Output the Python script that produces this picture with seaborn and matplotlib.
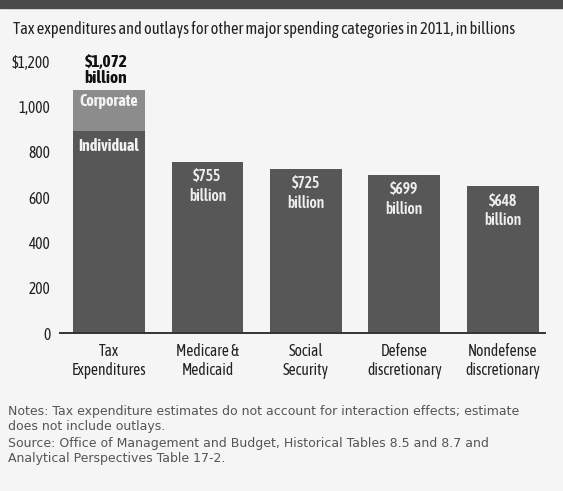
import matplotlib
matplotlib.use("Agg")
import matplotlib.pyplot as plt
import seaborn as sns
import pandas as pd
from matplotlib.patches import Rectangle

categories = ["Tax\nExpenditures", "Medicare &\nMedicaid", "Social\nSecurity",
              "Defense\ndiscretionary", "Nondefense\ndiscretionary"]
totals = [1072, 755, 725, 699, 648]
individual = [891, 755, 725, 699, 648]  # lower (dark) segment; only tax bar is split
corporate = [181, 0, 0, 0, 0]
yticks = [0, 200, 400, 600, 800, 1000, 1200]
ytick_labels = ["0", "200", "400", "600", "800", "1,000", "$1,200"]

sns.set_theme(style="white")
plt.rcParams['font.family'] = ['Asap Condensed', 'DejaVu Sans']

BG = "#f5f5f5"
DARK = "#575757"
LIGHT = "#8c8c8c"

fig = plt.figure(figsize=(5.63, 4.91), dpi=100, facecolor=BG)
ax = fig.add_axes([60/563, 1-333/491, 485/563, (333-61)/491])
ax.set_facecolor(BG)

df = pd.DataFrame({"cat": categories, "total": totals, "ind": individual})
sns.barplot(data=df, x="cat", y="total", hue="cat", palette=[LIGHT] + [DARK]*4,
            width=0.73, legend=False, ax=ax, saturation=1, linewidth=0)
sns.barplot(data=df, x="cat", y="ind", hue="cat", palette=[DARK]*5,
            width=0.73, legend=False, ax=ax, saturation=1, linewidth=0)

ax.set_xlim(-0.498, 4.43)
ax.set_ylim(0, 1200)
ax.set_yticks(yticks)
ax.set_yticklabels(ytick_labels)
ax.set_xlabel("")
ax.set_ylabel("")
for s in ["top", "right", "left"]:
    ax.spines[s].set_visible(False)
ax.spines["bottom"].set_color("#333333")
ax.spines["bottom"].set_linewidth(1.4)
ax.tick_params(axis="y", length=0, pad=7, labelsize=11.2, labelcolor="#222222")
ax.tick_params(axis="x", length=0, pad=7, labelsize=11.2, labelcolor="#222222")
for lbl in ax.get_xticklabels():
    lbl.set_linespacing(1.15)

# value labels
for i, v in enumerate(totals):
    if i == 0:
        ax.text(i - 0.03, v + 17, f"${v:,}\nbillion", ha="center", va="bottom",
                fontsize=12.5, fontweight="bold", color="#111111", linespacing=1.05)
        ax.text(i, totals[0] - 12, "Corporate", ha="center", va="top",
                fontsize=11.5, fontweight="bold", color="#f2f2f2")
        ax.text(i, individual[0] - 32, "Individual", ha="center", va="top",
                fontsize=11.5, fontweight="bold", color="#f2f2f2")
    else:
        ax.text(i, v - 28, f"${v:,}\nbillion", ha="center", va="top",
                fontsize=11.2, fontweight="semibold", color="#eeeeee", linespacing=1.2)

# top band and title
fig.patches.append(Rectangle((0, 1-8/491), 1, 8/491, transform=fig.transFigure,
                             color="#4a4a4a", zorder=0))
fig.text(13/563, 1-30/491, "Tax expenditures and outlays for other major spending categories in 2011, in billions",
         ha="left", va="center", fontsize=11.8, color="#222222")

notes = ("Notes: Tax expenditure estimates do not account for interaction effects; estimate\n"
         "does not include outlays.")
source = ("Source: Office of Management and Budget, Historical Tables 8.5 and 8.7 and\n"
          "Analytical Perspectives Table 17-2.")
fig.text(8/563, 1-405/491, notes, ha="left", va="top", fontsize=9.0,
         family="DejaVu Sans", color="#555555", linespacing=1.2)
fig.text(8/563, 1-437/491, source, ha="left", va="top", fontsize=9.0,
         family="DejaVu Sans", color="#555555", linespacing=1.2)

fig.savefig("out.png", dpi=100, facecolor=BG)
